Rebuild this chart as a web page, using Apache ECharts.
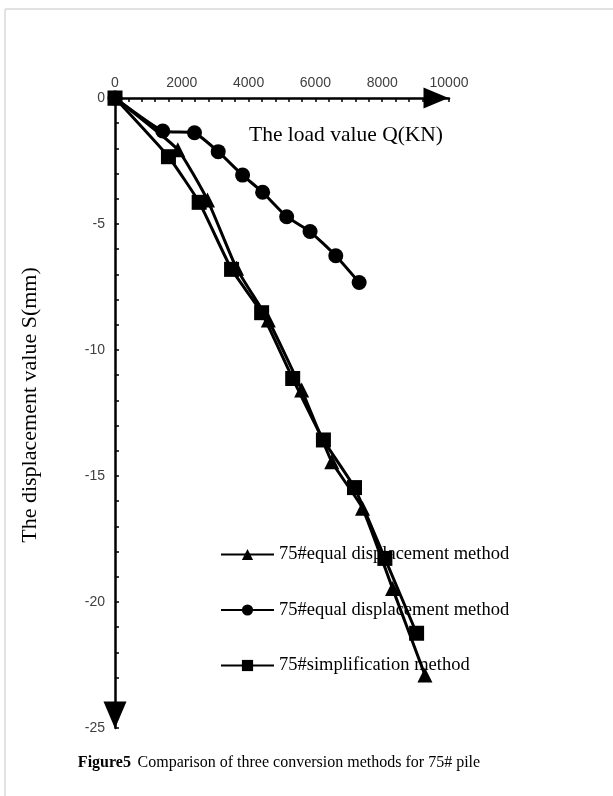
<!DOCTYPE html>
<html>
<head>
<meta charset="utf-8">
<style>html,body{margin:0;padding:0;background:#fff;}#c{width:613px;height:796px;}</style>
<script src="https://cdn.jsdelivr.net/npm/echarts@6/dist/echarts.min.js"></script>
</head>
<body>
<div id="c"></div>
<script>
const seriesNames = ['75#equal displacement method', '75#equal displacement method ', '75#simplification method'];
const triLoad = [0, 1880, 2770, 3640, 4590, 5590, 6490, 7410, 8310, 9280];
const triDisp = [0, -2.05, -4.05, -6.76, -8.81, -11.59, -14.43, -16.28, -19.46, -22.9];
const cirLoad = [0, 1430, 2380, 3090, 3820, 4420, 5140, 5840, 6610, 7310];
const cirDisp = [0, -1.31, -1.38, -2.13, -3.06, -3.74, -4.71, -5.30, -6.26, -7.32];
const sqLoad = [0, 1600, 2520, 3490, 4390, 5320, 6240, 7170, 8080, 9030];
const sqDisp = [0, -2.33, -4.14, -6.80, -8.52, -11.13, -13.57, -15.46, -18.27, -21.24];
const xTicks = [0, 2000, 4000, 6000, 8000, 10000];
const yTicks = [0, -5, -10, -15, -20, -25];

const pair = (xs, ys) => xs.map((x, i) => [x, ys[i]]);
const chart = echarts.init(document.getElementById('c'), null, {renderer: 'canvas'});
const serif = "'Liberation Serif','Times New Roman',serif";
const sans = "'Liberation Sans',Arial,sans-serif";
const lineBase = {type: 'line', smooth: 0.15, lineStyle: {color: '#000', width: 3}, itemStyle: {color: '#000'}, animation: false};
chart.setOption({
  backgroundColor: '#fff',
  animation: false,
  grid: {left: 115, top: 98, width: 334, height: 630},
  legend: {
    orient: 'vertical', left: 220, top: 545, padding: 0, itemWidth: 53, itemHeight: 14, itemGap: 36.5,
    textStyle: {fontFamily: serif, fontSize: 18.5, lineHeight: 14, color: '#000'},
    data: seriesNames
  },
  xAxis: {
    type: 'value', position: 'top', min: 0, max: 10000, interval: 2000,
    axisLine: {onZero: false, lineStyle: {color: '#000', width: 2.5}, symbol: ['none', 'triangle'], symbolSize: [21, 25], symbolOffset: [0, -13]},
    axisTick: {show: true, inside: true, length: 4, lineStyle: {color: '#000', width: 1.5}},
    minorTick: {show: true, splitNumber: 5, length: 4, lineStyle: {color: '#000', width: 1.5}},
    axisLabel: {fontFamily: sans, fontSize: 14, color: '#404040', margin: 8, formatter: v => xTicks.includes(v) ? String(v) : ''},
    splitLine: {show: false}
  },
  yAxis: {
    type: 'value', min: -25, max: 0, interval: 5,
    axisLine: {onZero: false, lineStyle: {color: '#000', width: 2.5}, symbol: ['triangle', 'none'], symbolSize: [23, 27], symbolOffset: [13, 0]},
    axisTick: {show: true, inside: true, length: 4, lineStyle: {color: '#000', width: 1.5}},
    minorTick: {show: true, splitNumber: 5, length: 4, lineStyle: {color: '#000', width: 1.5}},
    axisLabel: {fontFamily: sans, fontSize: 14, color: '#404040', margin: 10, formatter: v => yTicks.includes(v) ? String(v) : ''},
    splitLine: {show: false}
  },
  series: [
    Object.assign({}, lineBase, {name: seriesNames[0], symbol: 'triangle', symbolSize: 15, data: pair(triLoad, triDisp)}),
    Object.assign({}, lineBase, {name: seriesNames[1], symbol: 'circle', symbolSize: 15, data: pair(cirLoad, cirDisp)}),
    Object.assign({}, lineBase, {name: seriesNames[2], symbol: 'rect', symbolSize: 15, data: pair(sqLoad, sqDisp)})
  ],
  graphic: [
    {type: 'line', shape: {x1: 5, y1: 9, x2: 613, y2: 9}, style: {stroke: '#d9d9d9', lineWidth: 1.5}},
    {type: 'line', shape: {x1: 5, y1: 9, x2: 5, y2: 796}, style: {stroke: '#d9d9d9', lineWidth: 1.5}},
    {type: 'text', x: 249, y: 135, style: {text: 'The load value Q(KN)', font: '21.5px ' + serif, fill: '#000', verticalAlign: 'middle'}},
    {type: 'text', x: 30, y: 405, rotation: Math.PI / 2, style: {text: 'The displacement value S(mm)', font: '22px ' + serif, fill: '#000', align: 'center', verticalAlign: 'middle'}},
    {type: 'text', x: 279, y: 763, style: {
      text: '{b|Figure5}  {n|Comparison of three conversion methods for 75# pile}',
      align: 'center', verticalAlign: 'middle',
      rich: {b: {font: 'bold 16px ' + serif, fill: '#000'}, n: {font: '16px ' + serif, fill: '#000'}}
    }}
  ]
});
</script>
</body>
</html>
